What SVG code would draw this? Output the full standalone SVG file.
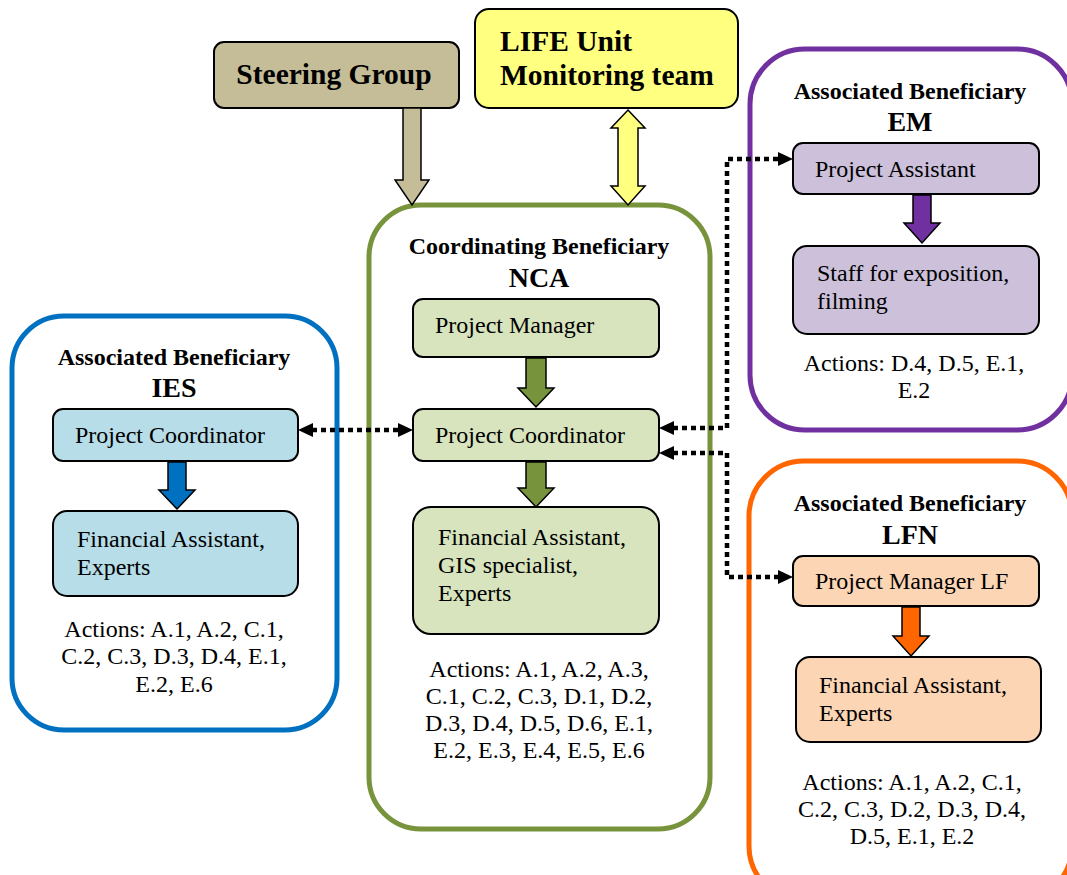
<svg xmlns="http://www.w3.org/2000/svg" width="1067" height="875" viewBox="0 0 1067 875">
<style>
text{font-family:"Liberation Serif","Times New Roman",serif;fill:#000}
.t{font-size:24px}
.h{font-size:24px;font-weight:bold}
.n{font-size:28px;font-weight:bold}
.b{font-size:29.5px;font-weight:bold}
.box{stroke:#000;stroke-width:2}
.cont{fill:#fff;stroke-width:5}
.dot{fill:none;stroke:#000;stroke-width:4.5;stroke-dasharray:5 4}
.ar{stroke:#000;stroke-width:1.5}
</style>
<rect width="1067" height="875" fill="#fff"/>

<g id="steering">
<rect class="box" x="214" y="42" width="245" height="66" rx="10" fill="#c4bd97"/>
<text class="b" x="334" y="84" text-anchor="middle">Steering Group</text>
</g>
<g id="life">
<rect class="box" x="475" y="9" width="263" height="99" rx="14" fill="#ffff80"/>
<text class="b" x="500" y="51">LIFE Unit</text>
<text class="b" x="500" y="85">Monitoring team</text>
</g>

<g id="nca">
<rect class="cont" x="369" y="205" width="341" height="624" rx="52" stroke="#77933c"/>
<text class="h" x="539" y="254" text-anchor="middle">Coordinating Beneficiary</text>
<text class="n" x="539" y="287" text-anchor="middle">NCA</text>
<rect class="box" x="413" y="299" width="246" height="58" rx="10" fill="#d7e4bd"/>
<text class="t" x="435" y="333">Project Manager</text>
<rect class="box" x="413" y="409" width="246" height="52" rx="10" fill="#d7e4bd"/>
<text class="t" x="435" y="443">Project Coordinator</text>
<rect class="box" x="413" y="507" width="246" height="127" rx="18" fill="#d7e4bd"/>
<text class="t" x="438" y="545">Financial Assistant,</text>
<text class="t" x="438" y="573">GIS specialist,</text>
<text class="t" x="438" y="601">Experts</text>
<text class="t" x="539" y="677" text-anchor="middle">Actions: A.1, A.2, A.3,</text>
<text class="t" x="539" y="704" text-anchor="middle">C.1, C.2, C.3, D.1, D.2,</text>
<text class="t" x="539" y="731" text-anchor="middle">D.3, D.4, D.5, D.6, E.1,</text>
<text class="t" x="539" y="758" text-anchor="middle">E.2, E.3, E.4, E.5, E.6</text>
<path class="ar" fill="#77933c" d="M526,358 H546 V388 H554 L536,407 L518,388 H526 Z"/>
<path class="ar" fill="#77933c" d="M526,462 H546 V488 H554 L536,507 L518,488 H526 Z"/>
</g>

<g id="ies">
<rect class="cont" x="12" y="316" width="325" height="414" rx="52" stroke="#0070c0"/>
<text class="h" x="174" y="365" text-anchor="middle">Associated Beneficiary</text>
<text class="n" x="174" y="397" text-anchor="middle">IES</text>
<rect class="box" x="53" y="409" width="245" height="52" rx="10" fill="#b7dde8"/>
<text class="t" x="75" y="443">Project Coordinator</text>
<rect class="box" x="53" y="511" width="245" height="85" rx="14" fill="#b7dde8"/>
<text class="t" x="77" y="547">Financial Assistant,</text>
<text class="t" x="77" y="575">Experts</text>
<text class="t" x="174" y="637" text-anchor="middle">Actions: A.1, A.2, C.1,</text>
<text class="t" x="174" y="664" text-anchor="middle">C.2, C.3, D.3, D.4, E.1,</text>
<text class="t" x="174" y="692" text-anchor="middle">E.2, E.6</text>
<path class="ar" fill="#0070c0" d="M168,462 H186 V490 H195 L177,509 L159,490 H168 Z"/>
</g>

<g id="em">
<rect class="cont" x="750" y="49" width="322" height="381" rx="55" stroke="#7030a0"/>
<text class="h" x="910" y="99" text-anchor="middle">Associated Beneficiary</text>
<text class="n" x="910" y="131" text-anchor="middle">EM</text>
<rect class="box" x="793" y="143" width="246" height="51" rx="10" fill="#ccc0da"/>
<text class="t" x="815" y="177">Project Assistant</text>
<rect class="box" x="793" y="246" width="246" height="88" rx="14" fill="#ccc0da"/>
<text class="t" x="817" y="281">Staff for exposition,</text>
<text class="t" x="817" y="309">filming</text>
<text class="t" x="914" y="371" text-anchor="middle">Actions: D.4, D.5, E.1,</text>
<text class="t" x="914" y="398" text-anchor="middle">E.2</text>
<path class="ar" fill="#7030a0" d="M913,195 H931 V223 H940 L922,243 L904,223 H913 Z"/>
</g>

<g id="lfn">
<rect class="cont" x="749" y="461" width="323" height="440" rx="55" stroke="#ff6600"/>
<text class="h" x="910" y="511" text-anchor="middle">Associated Beneficiary</text>
<text class="n" x="910" y="544" text-anchor="middle">LFN</text>
<rect class="box" x="793" y="556" width="246" height="50" rx="10" fill="#fcd5b5"/>
<text class="t" x="815" y="589">Project Manager LF</text>
<rect class="box" x="796" y="657" width="245" height="85" rx="14" fill="#fcd5b5"/>
<text class="t" x="819" y="693">Financial Assistant,</text>
<text class="t" x="819" y="721">Experts</text>
<text class="t" x="912" y="790" text-anchor="middle">Actions: A.1, A.2, C.1,</text>
<text class="t" x="912" y="817" text-anchor="middle">C.2, C.3, D.2, D.3, D.4,</text>
<text class="t" x="912" y="844" text-anchor="middle">D.5, E.1, E.2</text>
<path class="ar" fill="#ff6600" d="M902,607 H920 V636 H929 L911,656 L893,636 H902 Z"/>
</g>

<g id="connectors">
<path class="ar" fill="#c4bd97" d="M403,108 H421 V180 H429 L412,205 L395,180 H403 Z"/>
<path class="ar" fill="#ffff80" d="M628,110 L645,128 H638 V186 H645 L628,205 L611,186 H618 V128 H611 Z"/>
<path class="dot" d="M312,430 H399"/>
<path d="M298,430 L313,423 L313,437 Z" fill="#000"/>
<path d="M413,430 L398,423 L398,437 Z" fill="#000"/>
<path class="dot" d="M673,428 H727 V159 H779"/>
<path d="M659,428 L674,421 L674,435 Z" fill="#000"/>
<path d="M793,159 L778,152 L778,166 Z" fill="#000"/>
<path class="dot" d="M673,453 H727 V577 H779"/>
<path d="M659,453 L674,446 L674,460 Z" fill="#000"/>
<path d="M793,577 L778,570 L778,584 Z" fill="#000"/>
</g>
</svg>
